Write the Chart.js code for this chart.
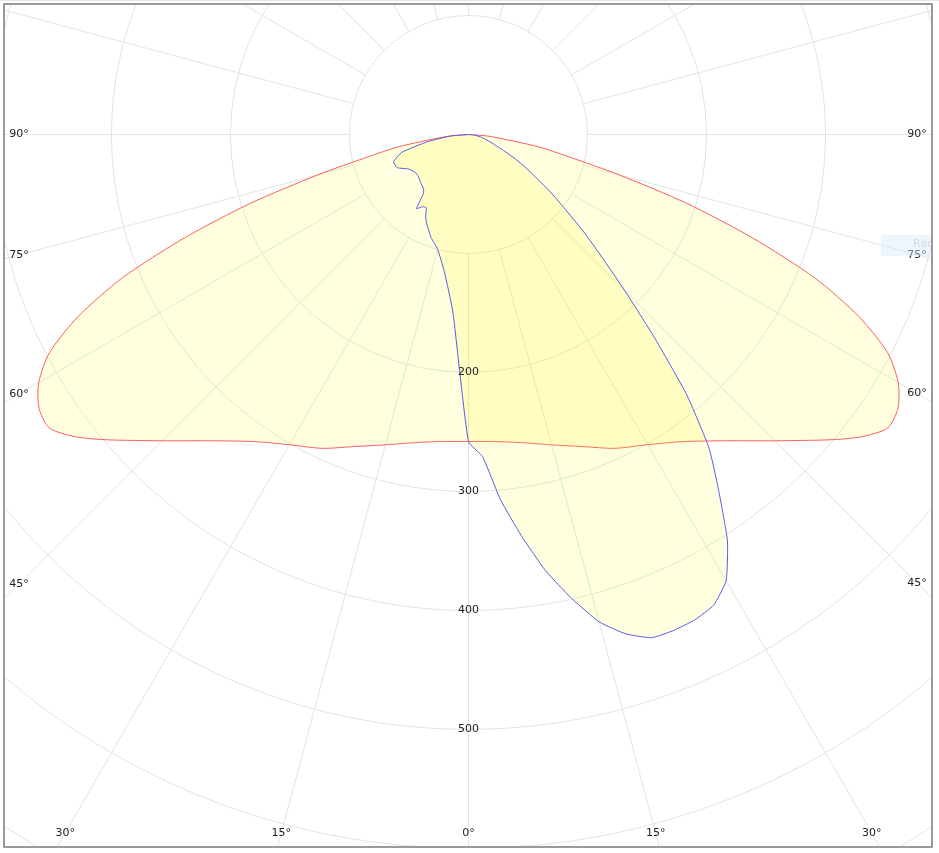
<!DOCTYPE html>
<html>
<head>
<meta charset="utf-8">
<script src="https://cdn.jsdelivr.net/npm/chart.js@4.4.1/dist/chart.umd.min.js"></script>
<style>
  html, body { margin: 0; padding: 0; background: #fff; }
  canvas { display: block; }
</style>
</head>
<body>
<canvas id="polar" width="939" height="853"></canvas>
<script>
// C0-C180 plane (symmetric), gamma in degrees, intensity in cd
var redGamma = [0, 5, 10, 15, 20, 25, 30, 35, 40, 45, 50, 52.5, 55, 57.5, 60, 62.5, 65, 67.5, 70, 72.5, 75, 77.5, 80, 85, 90];
var redCd    = [258, 259, 263, 270, 279, 291, 301, 315, 336, 364, 399, 417, 430, 428, 417, 397, 362, 315, 254, 192, 131, 86, 60, 18, 0];

// C90 plane (right half of the blue curve)
var blueRightGamma = [0, 2.5, 5, 7.5, 10, 12.5, 15, 17.5, 20, 22.5, 25, 27.5, 30, 32.5, 35, 37.5, 40, 42.5, 45, 47.5, 50, 52.5, 55, 57.5, 60, 62.5, 65, 67.5, 70, 75, 80, 85, 90];
var blueRightCd    = [258, 271, 308, 340, 372, 399, 424, 440, 450, 451, 450, 446, 433, 405, 367, 332, 285, 231, 186, 151, 125, 101, 84, 67, 55, 44, 34, 26, 21, 14, 9, 4, 0];

// C270 plane (left half of the blue curve)
var blueLeftGamma = [0, 5, 10, 15, 20, 25, 27.5, 30, 32.5, 35, 37.5, 40, 45, 50, 55, 60, 65, 70, 75, 80, 85, 90];
var blueLeftCd    = [258, 150, 117, 100, 92, 83, 78, 71, 72, 76, 62, 59, 57, 55, 55, 58, 66, 67, 58, 35, 15, 0];

var radialTicks  = [100, 200, 300, 400, 500, 600, 700, 800];
var radialLabels = [200, 300, 400, 500];
var angleTicks   = [0, 15, 30, 45, 60, 75, 90];

// polar (gamma from nadir, cd) -> x/y in cd units, side -1 = left, +1 = right
function toXY(gammas, values, side) {
    return gammas.map(function (g, i) {
        var a = g * Math.PI / 180;
        return { x: side * values[i] * Math.sin(a), y: -values[i] * Math.cos(a) };
    });
}

// red curve: left half (C180 = mirror of C0) from 90 down to 0, then right half
var redData = toXY(redGamma, redCd, -1).reverse().concat(toXY(redGamma, redCd, 1).slice(1));
var blueData = toXY(blueLeftGamma, blueLeftCd, -1).reverse().concat(toXY(blueRightGamma, blueRightCd, 1).slice(1));

var gridColor = "#e3e3e3";
var labelFont = "11px 'DejaVu Sans', Verdana, sans-serif";

var polarGrid = {
    id: "polarGrid",
    beforeDatasetsDraw: function (chart) {
        var ctx = chart.ctx, area = chart.chartArea;
        var xs = chart.scales.x, ys = chart.scales.y;
        var cx = xs.getPixelForValue(0), cy = ys.getPixelForValue(0);
        var k = xs.getPixelForValue(100) - cx;
        ctx.save();
        ctx.beginPath();
        ctx.rect(area.left, area.top, area.width, area.height);
        ctx.clip();
        ctx.strokeStyle = gridColor;
        ctx.lineWidth = 1;
        radialTicks.forEach(function (r) {
            ctx.beginPath();
            ctx.arc(cx, cy, r / 100 * k, 0, Math.PI * 2);
            ctx.stroke();
        });
        var inner = radialTicks[0] / 100 * k, outer = 10 * k;
        for (var a = 0; a < 360; a += 15) {
            var t = a * Math.PI / 180;
            ctx.beginPath();
            ctx.moveTo(cx + inner * Math.sin(t), cy + inner * Math.cos(t));
            ctx.lineTo(cx + outer * Math.sin(t), cy + outer * Math.cos(t));
            ctx.stroke();
        }
        ctx.restore();
    },
    afterDatasetsDraw: function (chart) {
        var ctx = chart.ctx, area = chart.chartArea;
        var xs = chart.scales.x, ys = chart.scales.y;
        var cx = xs.getPixelForValue(0), cy = ys.getPixelForValue(0);
        ctx.save();
        ctx.font = labelFont;
        ctx.fillStyle = "#222";
        ctx.textAlign = "center";
        ctx.textBaseline = "middle";
        radialLabels.forEach(function (r) {
            ctx.fillText(String(r), cx, ys.getPixelForValue(-r));
        });
        // angle labels where each radial line meets an inset of the frame
        var bx = { "-1": area.left + 15, "1": area.right - 15 };
        var by = area.bottom - 14;
        angleTicks.forEach(function (g) {
            var a = g * Math.PI / 180, s = Math.sin(a), c = Math.cos(a);
            [-1, 1].forEach(function (side) {
                if (g === 0 && side === -1) return;
                var t = Infinity;
                if (s > 1e-6) t = Math.abs(bx[side] - cx) / s;
                if (c > 1e-6) t = Math.min(t, (by - cy) / c);
                ctx.fillText(g + "\u00b0", cx + side * t * s, cy + t * c);
            });
        });
        ctx.restore();
    },
    afterDraw: function (chart) {
        var ctx = chart.ctx, area = chart.chartArea;
        ctx.save();
        // faint legend box cut off at the right edge
        ctx.beginPath();
        ctx.rect(area.left, area.top, area.width, area.height);
        ctx.clip();
        ctx.fillStyle = "rgba(215, 232, 250, 0.45)";
        ctx.fillRect(area.right - 51, 235, 60, 21);
        ctx.fillStyle = "rgba(0, 0, 0, 0.12)";
        ctx.font = labelFont;
        ctx.textBaseline = "middle";
        ctx.fillText("Radial", area.right - 19, 244);
        ctx.restore();
        ctx.save();
        ctx.fillStyle = "#e4e4e4";
        ctx.fillRect(0, 0, chart.width, 1);
        ctx.strokeStyle = "#9a9a9a";
        ctx.lineWidth = 2;
        ctx.strokeRect(area.left, area.top, area.width, area.height);
        ctx.restore();
    }
};

new Chart(document.getElementById("polar").getContext("2d"), {
    type: "line",
    data: {
        datasets: [{
            label: "C90-C270",
            data: blueData,
            borderColor: "rgb(90, 90, 235)",
            backgroundColor: "rgba(255, 250, 0, 0.13)",
            borderWidth: 1,
            pointRadius: 0,
            tension: 0.15,
            fill: "shape"
        }, {
            label: "C0-C180",
            data: redData,
            borderColor: "rgb(248, 95, 95)",
            backgroundColor: "rgba(255, 250, 0, 0.13)",
            borderWidth: 1,
            pointRadius: 0,
            tension: 0.25,
            fill: "shape"
        }]
    },
    options: {
        responsive: false,
        animation: false,
        layout: { padding: { left: 4, top: 4, right: 7, bottom: 6 } },
        scales: {
            x: { type: "linear", display: false, min: -390.34, max: 389.5 },
            y: { type: "linear", display: false, min: -598.74, max: 109.66 }
        },
        plugins: {
            legend: { display: false },
            tooltip: { enabled: false }
        }
    },
    plugins: [polarGrid]
});
</script>
</body>
</html>
